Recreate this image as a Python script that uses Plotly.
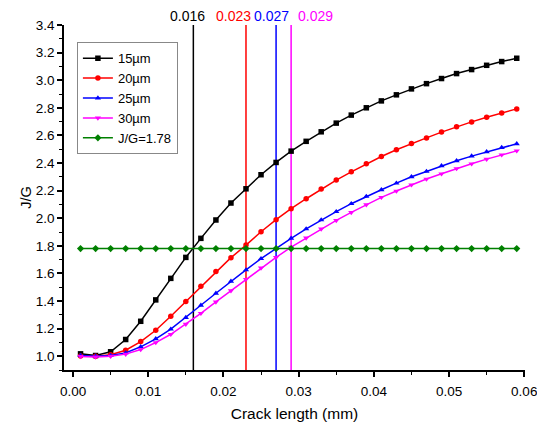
import plotly.graph_objects as go

crack_length = [0.001, 0.003, 0.005, 0.007, 0.009, 0.011, 0.013, 0.015, 0.017, 0.019,
                0.021, 0.023, 0.025, 0.027, 0.029, 0.031, 0.033, 0.035, 0.037, 0.039,
                0.041, 0.043, 0.045, 0.047, 0.049, 0.051, 0.053, 0.055, 0.057, 0.059]

jg_15um = [1.017, 1.005, 1.032, 1.121, 1.253, 1.408, 1.564, 1.716, 1.854, 1.987,
           2.110, 2.213, 2.315, 2.404, 2.486, 2.557, 2.626, 2.689, 2.747, 2.800,
           2.850, 2.894, 2.937, 2.975, 3.012, 3.048, 3.077, 3.108, 3.135, 3.159]
jg_20um = [1.002, 1.000, 1.010, 1.043, 1.106, 1.188, 1.290, 1.396, 1.507, 1.613,
           1.714, 1.805, 1.902, 1.989, 2.069, 2.141, 2.211, 2.276, 2.336, 2.394,
           2.447, 2.496, 2.541, 2.582, 2.624, 2.662, 2.698, 2.732, 2.763, 2.792]
jg_25um = [1.005, 1.000, 1.005, 1.024, 1.068, 1.126, 1.196, 1.280, 1.369, 1.456,
           1.543, 1.625, 1.707, 1.781, 1.854, 1.922, 1.987, 2.047, 2.105, 2.158,
           2.206, 2.254, 2.300, 2.339, 2.380, 2.416, 2.450, 2.481, 2.512, 2.539]
jg_30um = [0.998, 0.995, 1.000, 1.015, 1.048, 1.099, 1.159, 1.232, 1.311, 1.393,
           1.475, 1.557, 1.640, 1.716, 1.791, 1.857, 1.922, 1.984, 2.042, 2.098,
           2.151, 2.197, 2.242, 2.284, 2.322, 2.360, 2.394, 2.428, 2.459, 2.488]
jg_threshold = 1.78

crossing_x = [0.016, 0.023, 0.027, 0.029]
crossing_labels = ["0.016", "0.023", "0.027", "0.029"]
crossing_colors = ["#000000", "#ff0000", "#0000ff", "#ff00ff"]
label_shift_px = [-6, -12, -5, 24]

series = [
    ("15µm", jg_15um, "#000000", "square"),
    ("20µm", jg_20um, "#ff0000", "circle"),
    ("25µm", jg_25um, "#0000ff", "triangle-up"),
    ("30µm", jg_30um, "#ff00ff", "triangle-down"),
    ("J/G=1.78", [jg_threshold] * len(crack_length), "#008000", "diamond"),
]

Y_MIN, Y_MAX = 0.9, 3.4
X_MIN, X_MAX = -0.0012, 0.0601
FONT = "Liberation Sans, Arial"

fig = go.Figure()

for xv, col in zip(crossing_x, crossing_colors):
    fig.add_trace(go.Scatter(x=[xv, xv], y=[Y_MIN, Y_MAX], mode="lines",
                             line=dict(color=col, width=1.5), showlegend=False,
                             hoverinfo="skip"))

for name, vals, col, sym in series:
    fig.add_trace(go.Scatter(x=crack_length, y=vals, name=name, mode="lines+markers",
                             line=dict(color=col, width=1.5),
                             marker=dict(symbol=sym, size=5.5, color=col)))

for xv, lab, col, sh in zip(crossing_x, crossing_labels, crossing_colors, label_shift_px):
    fig.add_annotation(x=xv, y=1.0, xref="x", yref="paper", text=lab,
                       showarrow=False, yanchor="middle", yshift=9, xshift=sh,
                       font=dict(color=col, size=14, family=FONT))

fig.update_layout(
    width=537, height=425,
    margin=dict(l=64, r=12, t=25, b=55, autoexpand=False),
    paper_bgcolor="white", plot_bgcolor="white",
    font=dict(family=FONT, size=13.5, color="black"),
    legend=dict(x=0.028, y=0.95, xanchor="left", yanchor="top",
                bordercolor="#888888", borderwidth=1, bgcolor="white",
                font=dict(size=13), tracegroupgap=0, itemwidth=30),
    xaxis=dict(range=[X_MIN, X_MAX], showgrid=False, zeroline=False, automargin=False,
               showline=True, linecolor="black", linewidth=1.5,
               ticks="outside", ticklen=5, tickwidth=1.5, tickcolor="black",
               tick0=0, dtick=0.01, tickformat=".2f", ticklabeloverflow="allow",
               ticklabelstandoff=3,
               minor=dict(ticks="outside", ticklen=3, tickwidth=1.2, dtick=0.005, tick0=0, tickcolor="black"),
               title=dict(text="Crack length (mm)", font=dict(size=15.5), standoff=10)),
    yaxis=dict(range=[Y_MIN, Y_MAX], showgrid=False, zeroline=False, automargin=False,
               showline=True, linecolor="black", linewidth=1.5,
               ticks="outside", ticklen=5, tickwidth=1.5, tickcolor="black",
               tick0=1.0, dtick=0.2, tickformat=".1f",
               minor=dict(ticks="outside", ticklen=3, tickwidth=1.2, dtick=0.1, tick0=1.0, tickcolor="black"),
               title=dict(text="J/G", font=dict(size=14.5), standoff=1)),
)

fig.write_html("out.html")
